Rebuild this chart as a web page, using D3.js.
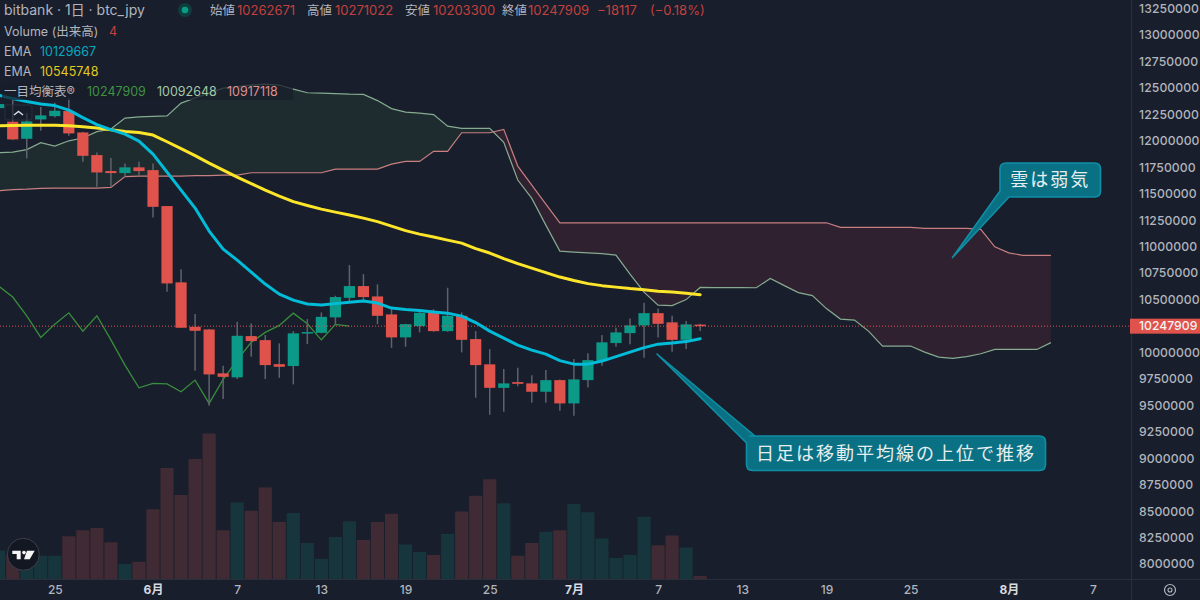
<!DOCTYPE html>
<html lang="ja">
<head>
<meta charset="utf-8">
<title>bitbank btc_jpy 1日足</title>
<script src="https://cdn.jsdelivr.net/npm/d3@7/dist/d3.min.js"></script>
<style>
  html, body { margin: 0; padding: 0; background: #181e2b; }
  svg { display: block; }
  text { font-family: Inter, "Noto Sans CJK JP", sans-serif; }
</style>
</head>
<body>
<svg id="chart" width="1200" height="600"></svg>
<script>
// Prices are in thousands of yen; bar index 0 is 25 May, index 7 is 1 June.
const firstBar = -4;
const lastTradeBar = 46;

const opens = [12309,12180,12019,12202,12233,12281,12079,11865,11714,11695,11749,11723,11383,10662,10242,10217,9802,9764,10154,10116,9889,9871,10180,10185,10331,10516,10627,10529,10359,10142,10249,10374,10201,10346,10126,9887,9665,9719,9707,9628,9738,9518,9738,9921,10088,10182,10255,10371,10284,10119,10262.671];
const highs = [12385,12385,12262,12319,12359,12404,12085,11890,11837,11786,11802,11786,11383,10787,10362,10220,9873,10289,10274,10164,10085,10201,10315,10378,10535,10825,10740,10643,10409,10270,10400,10409,10611,10378,10201,10031,9842,9854,9783,9833,9745,9937,9993,10164,10233,10321,10469,10416,10346,10296,10271.022];
const lows = [12271,12007,11834,12095,12221,12047,11802,11565,11565,11660,11676,11276,10573,10233,9826,9495,9559,9748,9958,9748,9760,9698,10078,10180,10258,10478,10478,10267,10043,10053,10189,10195,10195,10000,9571,9410,9439,9681,9524,9524,9448,9401,9669,9873,10053,10076,9949,10142,10006,10031,10203.3];
const closes = [12347,12013,12183,12240,12284,12070,11858,11701,11695,11749,11714,11376,10652,10233,10204,9792,9769,10157,10107,9880,9864,10180,10192,10336,10523,10627,10523,10346,10142,10267,10374,10201,10346,10119,9880,9665,9707,9703,9628,9738,9518,9745,9927,10095,10189,10255,10371,10270,10119,10265,10247.909];
const volumes = [38,32,32,31,31,57,65,68,49,20,23,93,148,112,160,194,65,102,91,122,76,88,48,27,56,77,52,76,87,46,36,32,60,90,111,133,101,31,48,63,65,100,89,54,28,32,83,45,58,42,4];

const emaFast = [12432,12399,12371,12347,12333,12290,12219,12153,12106,12063,11997,11874,11704,11534,11364,11147,10976,10872,10759,10646,10551,10494,10457,10447,10461,10475,10485,10466,10419,10405,10395,10381,10371,10343,10282,10201,10135,10069,10022,9984,9922,9889,9889,9918,9960,10003,10045,10078,10088,10102,10129.667];
const emaSlow = [12142,12144,12146,12148,12148,12142,12132,12120,12104,12089,12078,12054,11991,11926,11860,11789,11723,11657,11596,11534,11477,11425,11388,11354,11326,11298,11269,11236,11194,11151,11118,11090,11061,11033,10981,10939,10887,10839,10797,10754,10712,10679,10650,10631,10617,10603,10592,10579,10570,10559,10545.748];

// Leading spans run 25 bars past the last traded bar.
const spanA = [11887,11893,11917,11983,11950,12000,12026,12087,12111,12215,12227,12231,12236,12356,12404,12451,12498,12512,12527,12536,12527,12489,12454,12451,12446,12441,12439,12380,12304,12271,12262,12248,12139,12117,12117,12117,11985,11629,11456,11203,10957,10948,10940,10934,10920,10740,10570,10447,10442,10499,10614,10612,10612,10612,10611,10699,10631,10565,10537,10414,10315,10305,10201,10060,10060,10060,10003,9956,9943,9960,9987,10028,10028,10028,10028,10092.648];
const spanB = [11527,11539,11543,11550,11553,11553,11553,11553,11560,11662,11666,11666,11666,11666,11671,11671,11676,11676,11698,11698,11698,11698,11698,11698,11733,11733,11733,11733,11780,11805,11805,11900,11900,12076,12076,12076,12108,11761,11581,11402,11225,11225,11225,11225,11225,11225,11225,11225,11225,11225,11225,11225,11225,11225,11225,11225,11225,11225,11225,11225,11182,11182,11182,11182,11182,11182,11172,11172,11172,11172,11163,10998,10941,10917.118,10917.118,10917.118];

const priceTicks = d3.range(8000, 13251, 250);
const dayTickBars = [0, 7, 13, 19, 25, 31, 37, 43, 49, 55, 61, 68, 74];
const dayTickLabels = ["25", "6月", "7", "13", "19", "25", "7月", "7", "13", "19", "25", "8月", "7"];
const monthTickBars = [7, 37, 68];

const lastClose = 10247.909;
const ohlcLegend = [
  ["始値", "10262671", "高値", "10271022", "安値", "10203300", "終値", "10247909"]
];

const colors = {
  up: "#0b9a87", down: "#e0534c",
  volUp: "#17353d", volDown: "#402a33",
  wick: "#5f626c",
  text: "#b2b5be", legendRed: "#c2413f",
  fast: "#00bcd8", slow: "#fde62a",
  chikou: "#388e3c", spanA: "#86ab90", spanB: "#c77f80",
  cloudUp: "#1f2c2f", cloudDown: "#2f2130",
  grid: "#2a2f3b", callout: "#0a7184", calloutEdge: "#0f8fa6"
};

const bars = opens.map((o, k) => ({
  bar: firstBar + k, open: o, high: highs[k], low: lows[k], close: closes[k], volume: volumes[k]
}));

const x = d3.scaleLinear().domain([0, 74]).range([54.8, 1093]);
const y = d3.scaleLinear().domain([8000, 13000]).range([564.0, 35.0]);
const yVol = d3.scaleLinear().domain([0, 200]).range([579, 429]);

const svg = d3.select("#chart");
svg.append("rect").attr("width", 1200).attr("height", 600).attr("fill", "#181e2b");

const defs = svg.append("defs");
defs.append("clipPath").attr("id", "plot-clip")
  .append("rect").attr("width", 1130).attr("height", 579);

const plot = svg.append("g").attr("clip-path", "url(#plot-clip)");

// Volume columns along the bottom of the pane.
const barWidth = 13.2;
plot.append("g").selectAll("rect").data(bars).join("rect")
  .attr("x", d => x(d.bar) - barWidth / 2)
  .attr("y", d => yVol(d.volume))
  .attr("width", barWidth)
  .attr("height", d => yVol(0) - yVol(d.volume))
  .attr("fill", d => d.close >= d.open ? colors.volUp : colors.volDown);

// Ichimoku cloud: each colour is clipped to its side of span B.
const cloudPts = spanA.map((a, k) => ({ bar: firstBar + k, a, b: spanB[k] }));
const band = d3.area().x(d => x(d.bar)).y0(d => y(d.a)).y1(d => y(d.b));
const aboveB = d3.area().x(d => x(d.bar)).y0(0).y1(d => y(d.b));
const belowB = d3.area().x(d => x(d.bar)).y0(600).y1(d => y(d.b));
defs.append("clipPath").attr("id", "above-b").append("path").attr("d", aboveB(cloudPts));
defs.append("clipPath").attr("id", "below-b").append("path").attr("d", belowB(cloudPts));
plot.append("path").attr("d", band(cloudPts)).attr("fill", colors.cloudUp).attr("clip-path", "url(#above-b)");
plot.append("path").attr("d", band(cloudPts)).attr("fill", colors.cloudDown).attr("clip-path", "url(#below-b)");

const seriesLine = values => d3.line().x((v, k) => x(firstBar + k)).y(v => y(v))(values);
plot.append("path").attr("d", seriesLine(spanA)).attr("fill", "none").attr("stroke", colors.spanA).attr("stroke-width", 1.2);
plot.append("path").attr("d", seriesLine(spanB)).attr("fill", "none").attr("stroke", colors.spanB).attr("stroke-width", 1.2);

// Lagging span: closes plotted 25 bars back.
const chikou = closes.slice(25);
plot.append("path").attr("d", seriesLine(chikou)).attr("fill", "none").attr("stroke", colors.chikou).attr("stroke-width", 1.3);

// Candles.
const candleWidth = 11.2;
const candles = plot.append("g").selectAll("g").data(bars).join("g");
candles.append("line")
  .attr("x1", d => x(d.bar)).attr("x2", d => x(d.bar))
  .attr("y1", d => y(d.high)).attr("y2", d => y(d.low))
  .attr("stroke", colors.wick).attr("stroke-width", 1.5);
candles.append("rect")
  .attr("x", d => x(d.bar) - candleWidth / 2)
  .attr("y", d => y(Math.max(d.open, d.close)))
  .attr("width", candleWidth)
  .attr("height", d => Math.max(1.5, Math.abs(y(d.open) - y(d.close))))
  .attr("fill", d => d.close >= d.open ? colors.up : colors.down);

// Last-price marker line.
plot.append("line").attr("x1", 0).attr("x2", 1130)
  .attr("y1", y(lastClose)).attr("y2", y(lastClose))
  .attr("stroke", colors.down).attr("stroke-width", 1).attr("stroke-dasharray", "1 2");

// Moving averages.
plot.append("path").attr("d", seriesLine(emaSlow)).attr("fill", "none").attr("stroke", colors.slow)
  .attr("stroke-width", 3).attr("stroke-linejoin", "round").attr("stroke-linecap", "round");
plot.append("path").attr("d", seriesLine(emaFast)).attr("fill", "none").attr("stroke", colors.fast)
  .attr("stroke-width", 3).attr("stroke-linejoin", "round").attr("stroke-linecap", "round");

// Axes.
svg.append("line").attr("x1", 0).attr("x2", 1200).attr("y1", 579.5).attr("y2", 579.5).attr("stroke", colors.grid);
svg.append("line").attr("x1", 1131.5).attr("x2", 1131.5).attr("y1", 0).attr("y2", 600).attr("stroke", colors.grid);

const priceAxis = svg.append("g").attr("transform", "translate(1139,0)")
  .call(d3.axisRight(y).tickValues(priceTicks).tickSize(0).tickPadding(0).tickFormat(d => d3.format("d")(d * 1000)));
priceAxis.select(".domain").remove();
priceAxis.selectAll("text").attr("fill", colors.text).attr("font-size", 12.2).attr("font-weight", 500)
  .style("letter-spacing", "0.1px");

const dayAxis = svg.append("g").attr("transform", "translate(0,581)")
  .call(d3.axisBottom(x).tickValues(dayTickBars).tickSize(0).tickPadding(4)
    .tickFormat(d => dayTickLabels[dayTickBars.indexOf(d)]));
dayAxis.select(".domain").remove();
dayAxis.selectAll("text")
  .attr("fill", d => monthTickBars.includes(d) ? "#d8dae0" : colors.text)
  .attr("font-size", 12)
  .attr("font-weight", d => monthTickBars.includes(d) ? 700 : 500);

// Last-price tag on the price axis.
svg.append("rect").attr("x", 1130).attr("y", y(lastClose) - 7.5).attr("width", 70).attr("height", 15).attr("fill", colors.down);
svg.append("text").attr("x", 1139).attr("y", y(lastClose)).attr("dy", "0.35em")
  .attr("fill", "#f4f4f4").attr("font-size", 12.2).attr("font-weight", 500).text(d3.format("d")(Math.round(lastClose * 1000)));

// Legend block, top left.
const legend = svg.append("g");
const label = (tx, ty, str, fill, size = 12.5) =>
  legend.append("text").attr("x", tx).attr("y", ty).attr("dy", "0.35em").attr("fill", fill).attr("font-size", size).text(str);

legend.append("rect").attr("x", 2).attr("y", 83).attr("width", 291).attr("height", 17).attr("fill", "#181e2b").attr("opacity", 0.75);

label(4, 10.5, "bitbank · 1日 · btc_jpy", colors.text, 14);
legend.append("circle").attr("cx", 185).attr("cy", 10).attr("r", 7).attr("fill", "#0b4a47").attr("opacity", 0.7);
legend.append("circle").attr("cx", 185).attr("cy", 10).attr("r", 3.3).attr("fill", "#0b9a87");

ohlcLegend[0].forEach((str, k) => {
  const positions = [210, 237, 307, 335, 405, 433, 502, 528];
  label(positions[k], 10.5, str, k % 2 ? colors.legendRed : colors.text, k % 2 ? 13 : 12.5);
});
label(597, 10.5, "−18117", colors.legendRed, 13);
label(650, 10.5, "(−0.18%)", colors.legendRed, 13);

label(4, 31.5, "Volume (出来高)", colors.text);
label(109, 31.5, "4", colors.legendRed);
label(4, 52, "EMA", colors.text);
label(40, 52, "10129667", "#08a8c0");
label(4, 72, "EMA", colors.text);
label(40, 72, "10545748", "#e3ca1f");
label(4, 92, "一目均衡表®", colors.text);
label(87, 92, "10247909", "#3f9143");
label(157, 92, "10092648", "#a3c9a8");
label(227, 92, "10917118", "#e08f92");

// Collapse button over the legend.
svg.append("rect").attr("x", 5).attr("y", 105).attr("width", 27).attr("height", 15).attr("rx", 2)
  .attr("fill", "#181e2b").attr("fill-opacity", 0.6).attr("stroke", "#2a2f3b");
svg.append("path").attr("d", d3.line()([[14, 115], [18.5, 111.5], [23, 115]]))
  .attr("fill", "none").attr("stroke", "#d9dbe0").attr("stroke-width", 1.5);

// Commentary callouts, built from their pointer tips and boxes.
function callout(box, tail, tip, str) {
  const r = 6;
  const p = d3.path();
  p.moveTo(box.x0 + r, box.y0);
  p.lineTo(box.x1 - r, box.y0);
  p.quadraticCurveTo(box.x1, box.y0, box.x1, box.y0 + r);
  p.lineTo(box.x1, box.y1 - r);
  p.quadraticCurveTo(box.x1, box.y1, box.x1 - r, box.y1);
  if (tail.side === "bottom") {
    p.lineTo(tail.b[0], tail.b[1]);
    p.lineTo(tip[0], tip[1]);
    p.lineTo(tail.a[0], tail.a[1]);
    p.lineTo(box.x0, box.y1 - r);
    p.lineTo(box.x0, box.y0 + r);
  } else {
    p.lineTo(box.x0 + r, box.y1);
    p.quadraticCurveTo(box.x0, box.y1, box.x0, box.y1 - r);
    p.lineTo(tail.a[0], tail.a[1]);
    p.lineTo(tip[0], tip[1]);
    p.lineTo(tail.b[0], tail.b[1]);
  }
  p.quadraticCurveTo(box.x0, box.y0, box.x0 + r, box.y0);
  svg.append("path").attr("d", p.toString()).attr("fill", colors.callout)
    .attr("stroke", colors.calloutEdge).attr("stroke-width", 1.6).attr("stroke-linejoin", "round");
  svg.append("text").attr("x", (box.x0 + box.x1) / 2).attr("y", (box.y0 + box.y1) / 2).attr("dy", "0.36em")
    .attr("text-anchor", "middle").attr("fill", "#e6eef0")
    .attr("font-size", 18).style("letter-spacing", "2px").text(str);
}

callout({ x0: 1000, x1: 1100.5, y0: 163, y1: 197 },
  { side: "bottom", a: [1000, 191], b: [1009, 197] }, [952.5, 257.5], "雲は弱気");
callout({ x0: 746.5, x1: 1045.5, y0: 436, y1: 470.5 },
  { side: "top", a: [746.5, 443], b: [755, 436] }, [657, 354], "日足は移動平均線の上位で推移");

// Vendor badge, bottom left.
const badge = svg.append("g");
badge.append("circle").attr("cx", 23.3).attr("cy", 554.3).attr("r", 16).attr("fill", "#131722").attr("stroke", "#3c404c").attr("stroke-width", 1);
badge.append("path").attr("fill", "#f5f5f5")
  .attr("d", "M12.3 550.7H20.7V559.3H16.7V554H12.3Z M27 550.7H34.7L29.7 559.3H24Z");
badge.append("circle").attr("cx", 24).attr("cy", 552.6).attr("r", 1.8).attr("fill", "#f5f5f5");

// Settings cog in the scale corner.
const cog = svg.append("g").attr("transform", "translate(1170,590)");
cog.append("circle").attr("r", 5.5).attr("fill", "none").attr("stroke", colors.text).attr("stroke-width", 1.2);
cog.append("circle").attr("r", 2).attr("fill", "none").attr("stroke", colors.text).attr("stroke-width", 1.1);
</script>
</body>
</html>
